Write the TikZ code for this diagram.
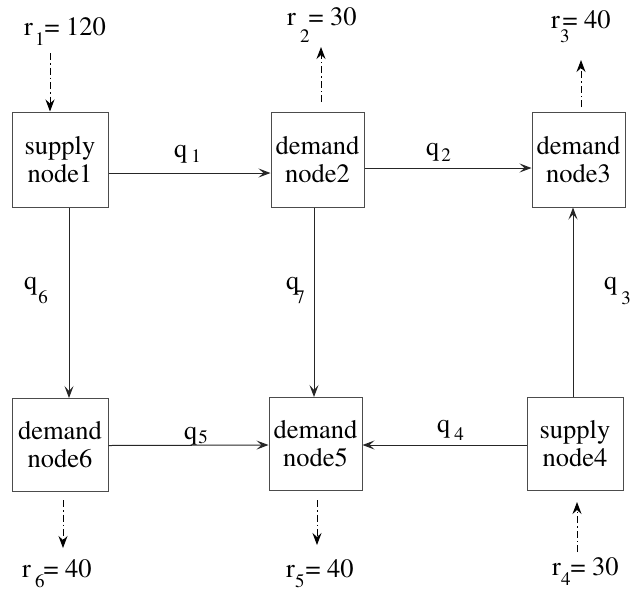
\documentclass[tikz,border=0pt]{standalone}
\usepackage[T1]{fontenc}
\renewcommand{\rmdefault}{ptm}
\usetikzlibrary{arrows.meta}
\newcommand{\nodefont}{\rmfamily\fontsize{26.5}{28}\selectfont}
\newcommand{\subf}{\fontsize{19}{19}\selectfont}
\newcommand{\lbl}[6]{#1\kern#2pt\raisebox{-#3pt}{\subf #4}\kern#5pt#6}
\tikzset{
  box/.style={draw=black!70, line width=1pt, inner sep=0pt, align=center, font=\nodefont},
  flow/.style={draw=black!85, line width=1pt, -{Stealth[length=12pt,width=9pt,inset=5pt]}},
  dd/.style={draw=black, line width=1pt, dash pattern=on 7pt off 3pt on 1.5pt off 3pt, -{Stealth[length=12pt,width=9pt,inset=4pt]}},
  lab/.style={inner sep=0pt, anchor=base west, font=\nodefont}
}
\begin{document}
\begin{tikzpicture}[x=1pt,y=-1pt]
\useasboundingbox (0,0) rectangle (634,590);
% nodes
\node[box, minimum width=96pt, minimum height=95pt] (n1) at (60,159.5) {supply\\node1};
\node[box, minimum width=93pt, minimum height=95pt] (n2) at (317.5,159.5) {demand\\node2};
\node[box, minimum width=93pt, minimum height=95pt] (n3) at (578.5,159.5) {demand\\node3};
\node[box, minimum width=96pt, minimum height=93pt] (n6) at (60,445) {demand\\node6};
\node[box, minimum width=93pt, minimum height=93pt] (n5) at (315.5,444) {demand\\node5};
\node[box, minimum width=96pt, minimum height=93pt] (n4) at (575,444) {supply\\node4};
% labels
\node[lab] (lr1) at (24,35) {\lbl{r}{2}{10}{1}{0}{= 120}};
\node[lab] (lr2) at (287,25) {\lbl{r}{4}{17}{2}{-1}{= 30}};
\node[lab] (lr3) at (551,28) {\lbl{r}{0}{14}{3}{-7}{= 40}};
\node[lab] (lr6) at (22,577) {\lbl{r}{4}{10}{6}{-1}{= 40}};
\node[lab] (lr5) at (286,577) {\lbl{r}{0}{10}{5}{1}{= 40}};
\node[lab] (lr4) at (552,575) {\lbl{r}{0}{10}{4}{0}{= 30}};
\node[lab] (lq1) at (174,157.5) {\lbl{q}{4}{5}{1}{0}{}};
\node[lab] (lq2) at (426,155.5) {\lbl{q}{2}{6}{2}{0}{}};
\node[lab] (lq6) at (24,289.5) {\lbl{q}{1}{14}{6}{0}{}};
\node[lab] (lq7) at (286,289.5) {\lbl{q}{-4}{14}{7}{0}{}};
\node[lab] (lq3) at (604,289.5) {\lbl{q}{4}{15}{3}{0}{}};
\node[lab] (lq5) at (184,439.5) {\lbl{q}{1}{4}{5}{0}{}};
\node[lab] (lq4) at (437,432) {\lbl{q}{4}{8}{4}{0}{}};
% helper coordinates
\coordinate (v6) at (69,0);
\coordinate (v7) at (314,0);
\coordinate (v3) at (573,0);
\coordinate (s1) at (50,53);
\coordinate (a2) at (321,102);
\coordinate (t2) at (321,47);
\coordinate (a3) at (581,107);
\coordinate (t3) at (581,60);
\coordinate (a6) at (63,500);
\coordinate (t6) at (63,548);
\coordinate (a5) at (317,500);
\coordinate (t5) at (317,545);
\coordinate (a4) at (577,552);
\coordinate (t4) at (577,502);
% flows
\draw[flow] ([yshift=-13.5pt]n1.east) -- ([yshift=-13.5pt]n2.west);
\draw[flow] ([yshift=-8.5pt]n2.east) -- ([yshift=-8.5pt]n3.west);
\draw[flow] (n1.south -| v6) -- (n6.north -| v6);
\draw[flow] (n2.south -| v7) -- (n5.north -| v7);
\draw[flow] (n4.north -| v3) -- (n3.south -| v3);
\draw[flow] ([yshift=-0.5pt]n6.east) -- ([yshift=-1pt]n5.west);
\draw[flow] ([yshift=-1pt]n4.west) -- ([yshift=-1pt]n5.east);
% external supplies / demands
\draw[dd] (s1) -- (s1 |- n1.north);
\draw[dd] (a2) -- (t2);
\draw[dd] (a3) -- (t3);
\draw[dd] (a6) -- (t6);
\draw[dd] (a5) -- (t5);
\draw[dd] (a4) -- (t4);
\end{tikzpicture}
\end{document}
